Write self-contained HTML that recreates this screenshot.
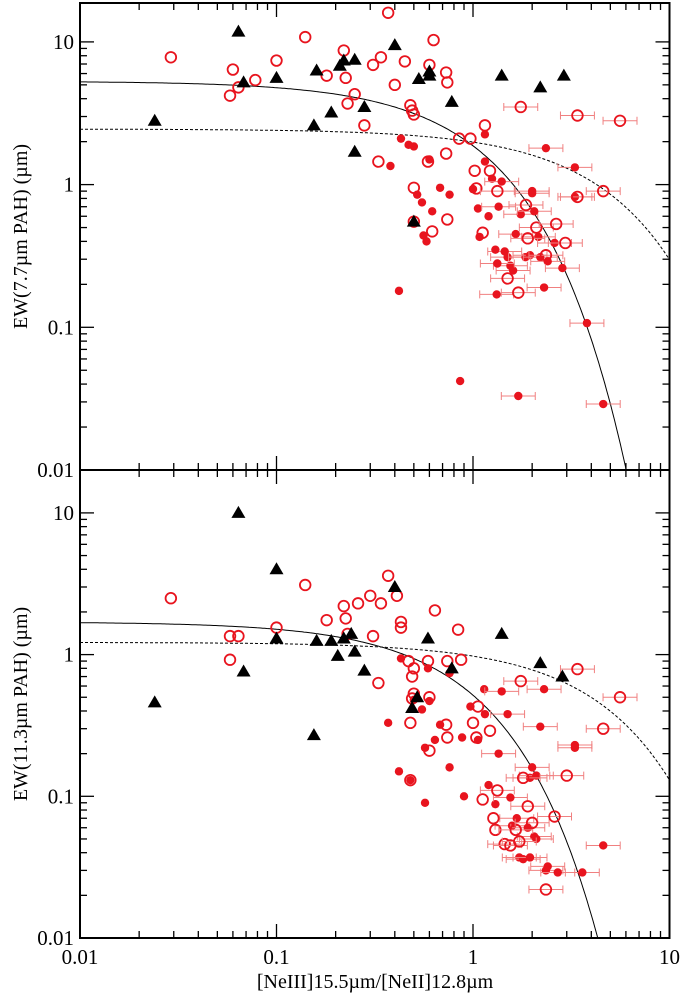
<!DOCTYPE html>
<html><head><meta charset="utf-8"><style>
body{margin:0;background:#fff}
svg{display:block;font-family:"Liberation Serif",serif}
</style></head><body>
<svg id="c" width="683" height="994"></svg>
<script>
// ---- data ----
const xTickLabels=["0.01","0.1","1","10"];
const yTickLabels=["0.01","0.1","1","10"];
// top panel: EW(7.7um PAH)
const topTriX=[0.024,0.064,0.068,0.1,0.155,0.16,0.19,0.21,0.22,0.25,0.25,0.28,0.4,0.5,0.53,0.6,0.6,0.78,1.4,2.2,2.9];
const topTriY=[2.8,11.8,5.2,5.6,2.6,6.3,3.2,6.8,7.4,7.5,1.7,3.5,9.5,0.55,5.5,6.2,5.8,3.8,5.8,4.8,5.8];
const topFillX=[0.38,0.43,0.47,0.5,0.42,0.52,0.55,0.56,0.58,0.6,0.62,0.68,0.76,0.86,1,1.06,1.08,1.15,1.2,1.25,1.35,1.4,1.45,1.5,1.55,1.6,1.3,1.33,1.32,1.65,1.7,1.75,1.85,1.95,2,2,2.05,2.15,2.2,2.3,2.35,2.4,2.6,2.85,3.3,3.3,3.8,4.6,1.15];
const topFillY=[1.35,2.1,1.9,1.85,0.18,0.85,0.75,0.44,0.4,1.5,0.65,0.95,0.85,0.042,0.93,0.68,0.43,1.45,0.6,1.1,0.7,1.05,0.34,0.31,0.27,0.25,0.35,0.28,0.17,0.45,0.033,0.62,0.31,0.32,0.9,0.87,0.65,0.43,0.31,0.19,1.8,0.29,0.39,0.26,1.32,0.82,0.107,0.029,2.25];
const topOpenX=[0.029,0.06,0.058,0.064,0.078,0.1,0.14,0.18,0.22,0.225,0.23,0.25,0.28,0.31,0.33,0.34,0.37,0.4,0.45,0.48,0.49,0.5,0.5,0.5,0.59,0.6,0.62,0.63,0.73,0.74,0.73,0.74,0.85,0.97,1.02,1.04,1.12,1.15,1.22,1.33,1.5,1.75,1.7,1.86,1.9,2.1,2.35,2.65,2.95,3.4,3.4,5.6,4.6];
const topOpenY=[7.8,6.4,4.2,4.8,5.4,7.4,10.8,5.8,8.7,5.6,3.7,4.3,2.6,6.9,1.45,7.8,16,5,7.3,3.6,3.3,3.1,0.95,0.55,1.45,6.9,0.47,10.3,6.1,5.2,1.65,0.57,2.1,2.1,1.25,0.94,0.46,2.6,1.25,0.9,0.22,3.5,0.175,0.72,0.42,0.5,0.32,0.53,0.39,3.05,0.82,2.8,0.9];
// bottom panel: EW(11.3um PAH)
const botTriX=[0.024,0.064,0.068,0.1,0.1,0.155,0.16,0.19,0.205,0.22,0.24,0.25,0.28,0.4,0.49,0.52,0.59,0.78,1.4,2.2,2.85];
const botTriY=[0.46,10,0.76,4,1.3,0.27,1.25,1.25,0.98,1.3,1.4,1.05,0.77,3,0.42,0.5,1.3,0.8,1.4,0.87,0.7];
const botOpenX=[0.029,0.058,0.058,0.064,0.1,0.14,0.18,0.22,0.225,0.23,0.26,0.3,0.31,0.33,0.34,0.37,0.41,0.43,0.43,0.47,0.49,0.5,0.5,0.49,0.48,0.48,0.59,0.6,0.6,0.64,0.73,0.74,0.74,0.84,0.87,1,1.04,1.06,1.12,1.22,1.27,1.3,1.33,1.45,1.55,1.65,1.72,1.75,1.8,1.9,2,2.35,2.6,3,3.4,5.6,4.6];
const botOpenY=[2.5,0.92,1.35,1.35,1.55,3.1,1.75,2.2,1.8,1.4,2.3,2.6,1.35,0.63,2.3,3.6,2.6,1.55,1.7,0.9,0.7,0.8,0.53,0.49,0.33,0.13,0.9,0.5,0.21,2.05,0.32,0.26,0.9,1.5,0.92,0.33,0.26,0.43,0.095,0.29,0.07,0.058,0.11,0.046,0.045,0.058,0.048,0.65,0.135,0.085,0.065,0.022,0.072,0.14,0.79,0.5,0.3];
const botFillX=[0.37,0.42,0.43,0.48,0.5,0.55,0.57,0.59,0.6,0.57,0.64,0.68,0.76,0.76,0.88,0.9,0.97,1.06,1.14,1.15,1.2,1.3,1.35,1.4,1.5,1.55,1.58,1.67,1.72,1.8,1.9,1.95,1.95,2,2.05,2.1,2.1,2.2,2.3,2.35,2.4,2.7,3.3,3.3,3.6,4.6];
const botFillY=[0.33,0.15,0.94,0.13,0.48,0.41,0.22,0.8,0.47,0.09,0.25,0.32,0.74,0.16,0.26,0.1,0.43,0.25,0.57,0.38,0.12,0.088,0.2,0.55,0.38,0.098,0.062,0.07,0.037,0.036,0.06,0.037,0.135,0.16,0.052,0.05,0.14,0.31,0.57,0.03,0.032,0.029,0.22,0.23,0.029,0.045];
// fit curves y = A exp(-x/x0)
const fitTopSolid=[5.3,0.96], fitTopDash=[2.45,4.75], fitBotSolid=[1.7,0.84], fitBotDash=[1.22,4.47];

// ---- drawing ----
const NS="http://www.w3.org/2000/svg", svg=document.getElementById('c');
const L=80,R=669.5;
const xs=v=>L+(Math.log10(v)+2)*(R-L)/3;
function mk(tag,at,parent){const e=document.createElementNS(NS,tag);for(const k in at)e.setAttribute(k,at[k]);(parent||svg).appendChild(e);return e;}
function panel(name,top,bottom,tri,open,fill,fits,title){
  const g=mk('g',{});
  
  
  const dec=name==='top-panel'?142.7:141.7;
  const ys=v=>bottom-(Math.log10(v)+2)*dec;
  const clip=mk('clipPath',{id:'cl'+name},g);mk('rect',{x:L,y:top,width:R-L,height:bottom-top},clip);
  for(let d=-2;d<=1;d++)for(let m=1;m<10;m++){
    const v=m*Math.pow(10,d); if(v>10.01)break;
    const len=m===1?14:7;
    const x=xs(v);
    mk('line',{x1:x,y1:bottom,x2:x,y2:bottom-len,stroke:'#000','stroke-width':1.3},g);mk('line',{x1:x,y1:top,x2:x,y2:top+len,stroke:'#000','stroke-width':1.3},g);
    const y=ys(v);
    if(y>=top-0.5){mk('line',{x1:L,y1:y,x2:L+len,y2:y,stroke:'#000','stroke-width':1.3},g);mk('line',{x1:R,y1:y,x2:R-len,y2:y,stroke:'#000','stroke-width':1.3},g);}
  }
  for(let i=0;i<4;i++){
    const y=ys(Math.pow(10,i-2));
    const t=mk('text',{x:L-6,y:y+7,'text-anchor':'end','font-size':21},g);t.textContent=yTickLabels[i];
    
    
  }
  const yt=mk('text',{transform:`translate(27,${(top+bottom)/2}) rotate(-90)`,'text-anchor':'middle','font-size':20},g);
  yt.textContent=title;
  
  
  const pg=mk('g',{'clip-path':`url(#cl${name})`},g);
  fits.forEach((f,j)=>{let d='';for(let i=0;i<=300;i++){const lx=-2+3*i/300,x=Math.pow(10,lx),y=f[0]*Math.exp(-x/f[1]);if(y<0.005)break;d+=(i?'L':'M')+xs(x).toFixed(1)+','+ys(y).toFixed(1);}
    const p=mk('path',{d,fill:'none',stroke:'#000','stroke-width':1,'stroke-dasharray':j?'3,2':'none'},pg);
    
    });
  const err=(x,y)=>{if(x>1.3){const a=xs(x/1.22),b=xs(x*1.22),yy=ys(y);mk('path',{d:`M${a},${yy}H${b}M${a},${yy-4}v8M${b},${yy-4}v8`,stroke:'#f08080','stroke-width':1,fill:'none'},pg);}};
  fill[0].forEach((x,i)=>{err(x,fill[1][i]);const c=mk('circle',{cx:xs(x),cy:ys(fill[1][i]),r:4.2,fill:'#e8141e'},pg);
    
    });
  open[0].forEach((x,i)=>{err(x,open[1][i]);const c=mk('circle',{cx:xs(x),cy:ys(open[1][i]),r:5.3,fill:'none',stroke:'#e8141e','stroke-width':1.8},pg);
    
    });
  tri[0].forEach((x,i)=>{const cx=xs(x),cy=ys(tri[1][i]);const p=mk('path',{d:`M${cx},${cy-7}L${cx+7},${cy+5}L${cx-7},${cy+5}Z`,fill:'#000'},pg);
    
    });
  mk('rect',{x:L,y:top,width:R-L,height:bottom-top,fill:'none',stroke:'#000','stroke-width':2},g);
}
panel('top-panel',3,470,[topTriX,topTriY],[topOpenX,topOpenY],[topFillX,topFillY],[fitTopSolid,fitTopDash],'EW(7.7\u00B5m PAH) (\u00B5m)');
panel('bottom-panel',470,938,[botTriX,botTriY],[botOpenX,botOpenY],[botFillX,botFillY],[fitBotSolid,fitBotDash],'EW(11.3\u00B5m PAH) (\u00B5m)');
for(let i=0;i<4;i++){const t=mk('text',{x:xs(Math.pow(10,i-2)),y:964,'text-anchor':'middle','font-size':21});t.textContent=xTickLabels[i];
  
  }
const xt=mk('text',{x:375,y:988,'text-anchor':'middle','font-size':20});xt.textContent='[NeIII]15.5\u00B5m/[NeII]12.8\u00B5m';


</script>
</body></html>
